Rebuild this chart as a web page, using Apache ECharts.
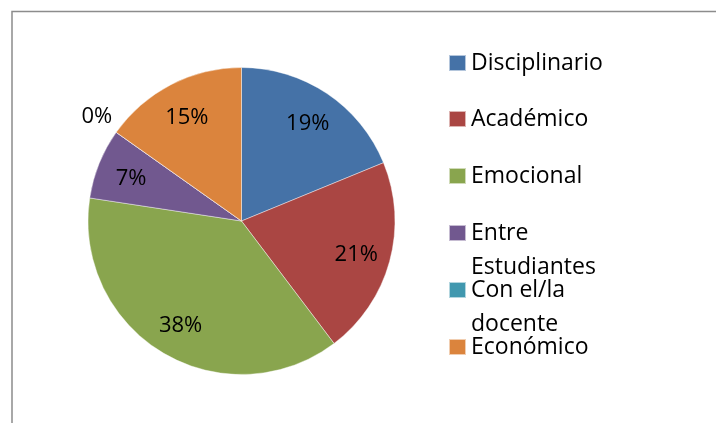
<!DOCTYPE html>
<html>
<head>
<meta charset="utf-8">
<script src="https://cdn.jsdelivr.net/npm/echarts@6/dist/echarts.min.js"></script>
<style>
  html, body { margin: 0; padding: 0; background: #fff; }
  #chart { width: 716px; height: 423px; }
</style>
</head>
<body>
<div id="chart"></div>
<script>
// datos del gráfico
var categories = ['Disciplinario', 'Académico', 'Emocional', 'Entre Estudiantes', 'Con el/la docente', 'Económico'];
var legendLabels = ['Disciplinario', 'Académico', 'Emocional', 'Entre\nEstudiantes', 'Con el/la\ndocente', 'Económico'];
var values = [18.8, 20.9, 37.7, 7.4, 0, 15.2];
var colors = ['#4572A7', '#AA4643', '#89A54E', '#71588F', '#4198AF', '#DB843D'];

var FONT = '"Open Sans", "Noto Sans", sans-serif';
var LH = 34;
var legendCenters = [63, 119, 176, 233, 290, 347];

var chart = echarts.init(document.getElementById('chart'));

var pieData = categories.map(function (name, i) {
  var item = { name: name, value: values[i] };
  if (values[i] === 0) {
    // etiqueta del 0% fuera del pastel
    item.label = { show: true, position: 'outside', formatter: '0%' };
    item.labelLine = { show: false, length: 27, length2: -23 };
  }
  return item;
});

var labelData = categories.map(function (name, i) {
  return { name: name, value: values[i], label: { show: values[i] !== 0 } };
});

// una leyenda por elemento; las de dos líneas llevan una línea vacía arriba
// para que el icono quede junto a la primera línea
var legends = legendLabels.map(function (lab, i) {
  var twoLine = lab.indexOf('\n') >= 0;
  return {
    orient: 'vertical',
    left: 448,
    top: legendCenters[i] - (twoLine ? 1.5 * LH : LH / 2),
    padding: 0,
    selectedMode: false,
    data: [categories[i]],
    icon: 'rect',
    itemWidth: 17,
    itemHeight: 16,
    formatter: function () { return twoLine ? ' \n' + lab : lab; },
    textStyle: {
      fontFamily: FONT,
      fontSize: 23,
      color: '#000',
      lineHeight: LH
    }
  };
});

var option = {
  animation: false,
  color: colors,
  graphic: [{
    type: 'rect',
    shape: { x: 12, y: 11.5, width: 800, height: 500 },
    style: { fill: 'none', stroke: '#8c8c8c', lineWidth: 1.5 },
    silent: true
  }],
  legend: legends,
  series: [
    {
      name: 'pastel',
      type: 'pie',
      center: [241.5, 221],
      radius: 153.5,
      startAngle: 90,
      clockwise: true,
      avoidLabelOverlap: false,
      emphasis: { disabled: true },
      itemStyle: { borderColor: 'rgba(255,255,255,0.6)', borderWidth: 0.7 },
      label: { show: false, fontFamily: FONT, fontSize: 22, color: '#000' },
      labelLine: { show: false },
      data: pieData
    },
    {
      name: 'etiquetas',
      type: 'pie',
      center: [241.5, 223],
      radius: [80, 152],
      startAngle: 90,
      clockwise: true,
      silent: true,
      avoidLabelOverlap: false,
      emphasis: { disabled: true },
      itemStyle: { color: 'rgba(0,0,0,0)', borderWidth: 0 },
      label: {
        show: true,
        position: 'inside',
        fontFamily: FONT,
        fontSize: 22,
        color: '#000',
        formatter: function (p) { return Math.round(p.percent) + '%'; }
      },
      labelLine: { show: false },
      data: labelData
    }
  ]
};

chart.setOption(option);
</script>
</body>
</html>
